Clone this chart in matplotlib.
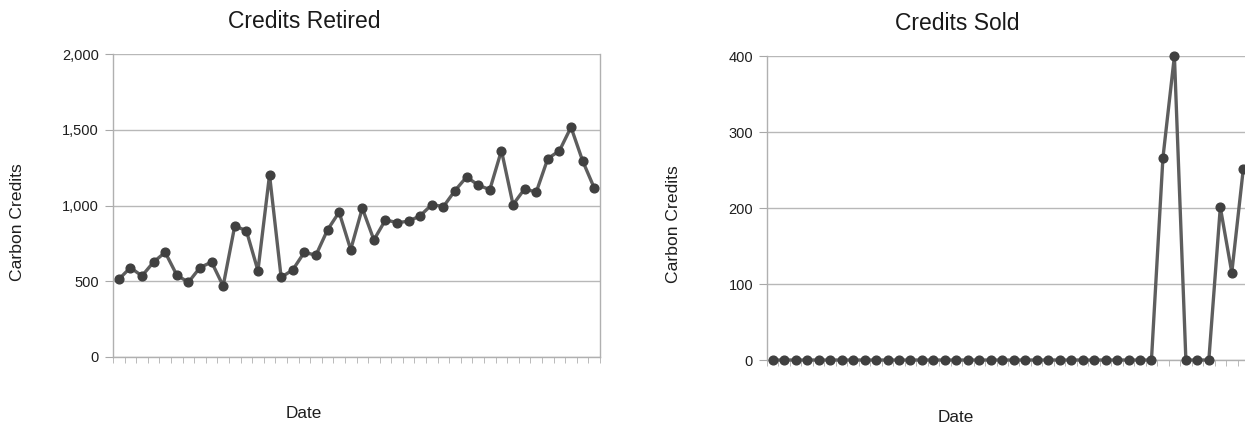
import numpy as np
import matplotlib
matplotlib.use("Agg")
import matplotlib.pyplot as plt
from matplotlib.ticker import FuncFormatter, FixedLocator

plt.rcParams["font.family"] = ["Liberation Sans", "DejaVu Sans"]

# monthly totals, same 42 periods in both panels
retired = [513, 590, 535, 627, 691, 541, 493, 590, 627, 469,
           865, 834, 570, 1202, 526, 575, 691, 672, 839, 956,
           709, 982, 773, 905, 887, 896, 933, 1006, 993, 1099,
           1189, 1134, 1105, 1363, 1006, 1110, 1088, 1310, 1361, 1517,
           1295, 1116]
sold = [0] * 34 + [266, 400, 0, 0, 0, 201, 115, 251]

retired_ticks = [0, 500, 1000, 1500, 2000]
sold_ticks = [0, 100, 200, 300, 400]

W, H = 1245, 425
fig = plt.figure(figsize=(W / 100, H / 100), dpi=100)
fig.patch.set_facecolor("white")

line_col = "#5e5e5e"
mark_col = "#404040"
grid_col = "#b8b8b8"
text_col = "#1e1e1e"


def style(ax, values, yticks):
    x = np.arange(len(values))
    ax.plot(x, values, color=line_col, lw=2.4, zorder=3, clip_on=False,
            marker="o", ms=6.3, mfc=mark_col, mec=mark_col)
    ax.set_xlim(-0.5, len(values) - 0.5)
    ax.set_ylim(yticks[0], yticks[-1])
    ax.set_yticks(yticks)
    ax.yaxis.set_major_formatter(FuncFormatter(lambda v, p: f"{int(v):,}"))
    ax.yaxis.grid(True, color=grid_col, lw=1.0)
    ax.set_axisbelow(True)
    ax.set_xticks([])
    ax.xaxis.set_minor_locator(FixedLocator(np.arange(len(values) + 1) - 0.5))
    ax.tick_params(axis="x", which="minor", length=4, width=0.6,
                   color="#b0b0b0", direction="out")
    ax.tick_params(axis="y", length=6, width=0.8, color="#a8a8a8",
                   labelsize=10.5, labelcolor=text_col, pad=4)
    for s in ax.spines.values():
        s.set_color("#b0b0b0")
        s.set_linewidth(1.0)
    ax.spines["top"].set_visible(False)


ax1 = fig.add_axes([113 / W, 1 - 357 / H, 487 / W, 303 / H])
style(ax1, retired, retired_ticks)

ax2 = fig.add_axes([767 / W, 1 - 360 / H, 482 / W, 304 / H])
style(ax2, sold, sold_ticks)
ax2.spines["right"].set_visible(False)

fig.text(304 / W, 1 - 22 / H, "Credits Retired", ha="center", va="center",
         fontsize=16.5, color="#1a1a1a")
fig.text(957 / W, 1 - 24 / H, "Credits Sold", ha="center", va="center",
         fontsize=16.5, color="#1a1a1a")

fig.text(18 / W, 1 - 222 / H, "Carbon Credits", ha="center", va="center",
         rotation=90, fontsize=12.6, color=text_col)
fig.text(674 / W, 1 - 224 / H, "Carbon Credits", ha="center", va="center",
         rotation=90, fontsize=12.6, color=text_col)

fig.text(304 / W, 1 - 414 / H, "Date", ha="center", va="center",
         fontsize=12.3, color=text_col)
fig.text(956 / W, 1 - 418 / H, "Date", ha="center", va="center",
         fontsize=12.3, color=text_col)

fig.savefig("out.png", dpi=100, facecolor="white")
